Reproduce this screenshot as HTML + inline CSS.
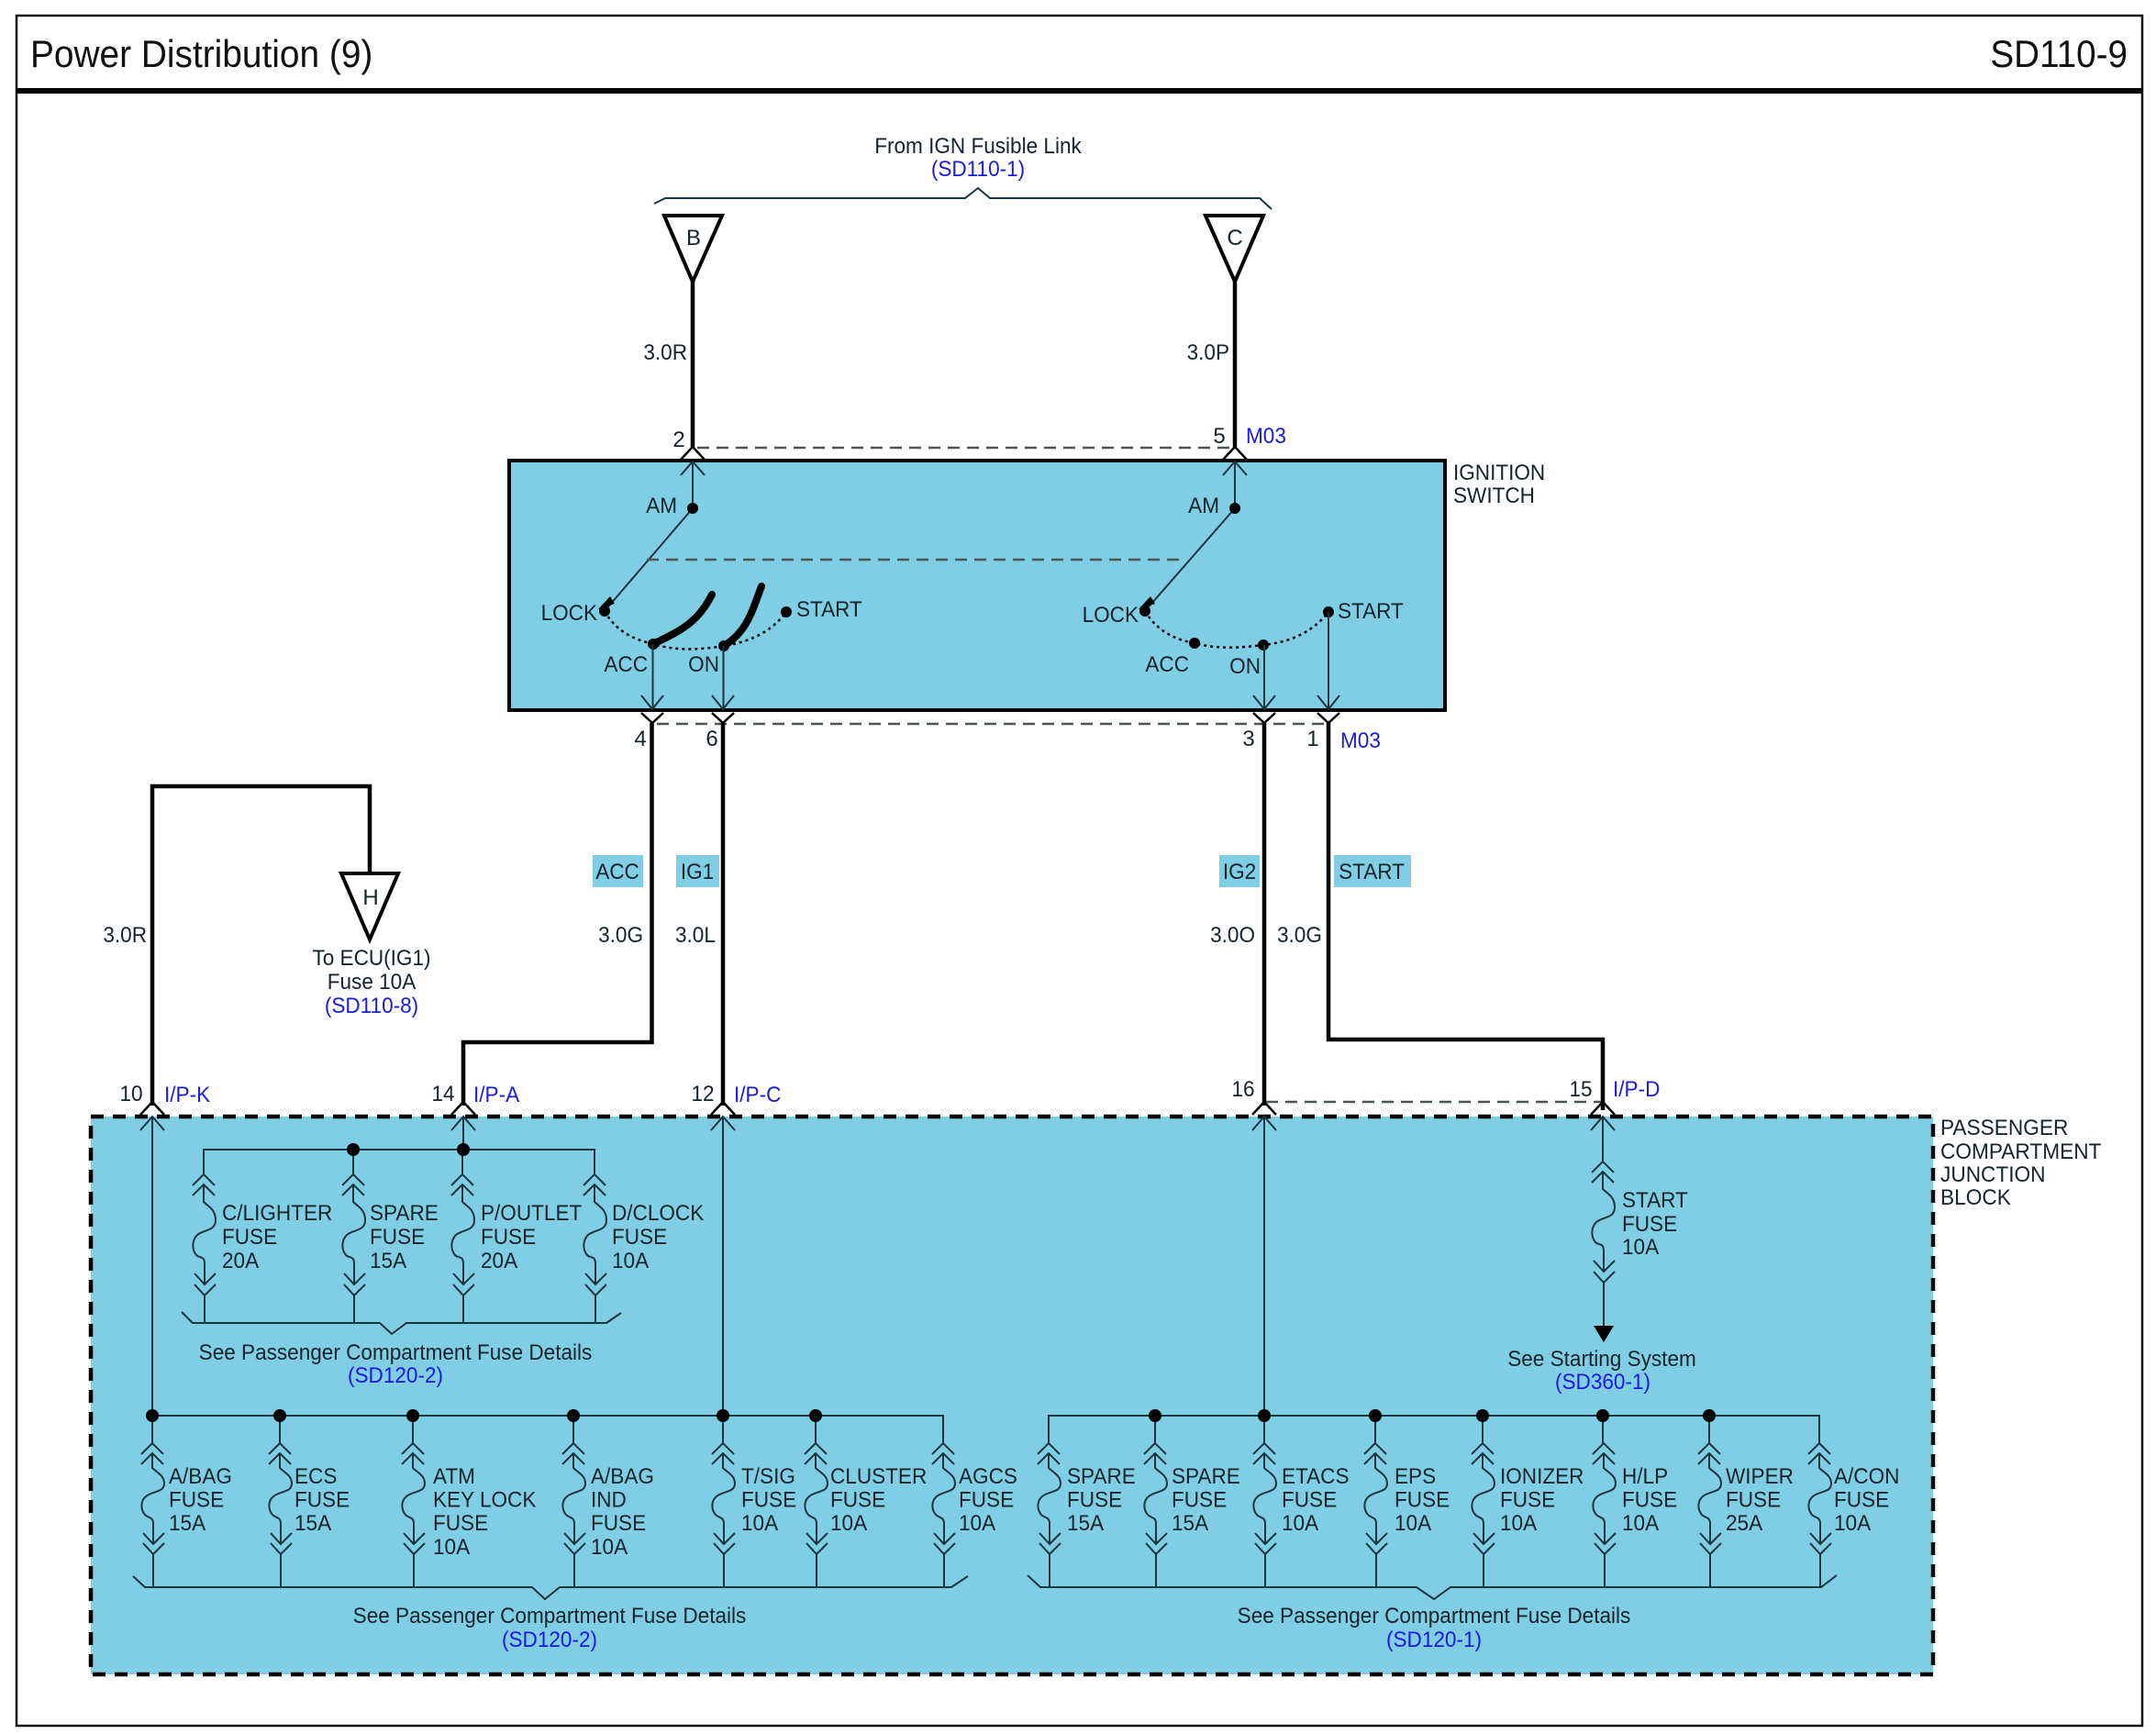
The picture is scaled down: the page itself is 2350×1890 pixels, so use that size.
<!DOCTYPE html>
<html><head><meta charset="utf-8"><title>Power Distribution (9)</title>
<style>
html,body{margin:0;padding:0;background:#fff}
svg{display:block}
text{font-family:"Liberation Sans",sans-serif;font-size:24px;fill:#14242c}
.b{fill:#1a1ae0}
.m{text-anchor:middle}
.e{text-anchor:end}
.h{font-size:42px;fill:#111}
.w{fill:none;stroke:#000;stroke-width:4.500}
.n{fill:none;stroke:#1b3540;stroke-width:2}
.d{fill:none;stroke:#4a5558;stroke-width:2.5;stroke-dasharray:13 8}
.c{fill:#80cee4}
</style></head><body>
<svg xmlns="http://www.w3.org/2000/svg" width="2350" height="1890" viewBox="0 0 2350 1890">
<defs>
<path id="fL" class="n" d="M-12,12 L0,0 L12,12 M-12,23 L0,11 L12,23 M0,11 V27 C5,32 13,35 13,44 C13,54 0,52 -7,58 C-13,63 -13,72 -8,78 C-4,82 1,80 1,88 V110 M-10,98 L1,110 L13,98 M-10,109 L1,121 L13,109 M1,121 V157"/>
<path id="fU" class="n" d="M-12,12 L0,0 L12,12 M-12,23 L0,11 L12,23 M0,11 V30 C5,35 13,38 13,50 C13,62 0,60 -7,66 C-13,72 -13,82 -8,88 C-4,92 1,88 1,98 V120 M-10,108 L1,120 L13,108 M-10,120 L1,132 L13,120 M1,132 V162"/>
<g id="cu"><path d="M-13,12 L0,-2 L13,12" fill="none" stroke="#000" stroke-width="2.5"/><path class="n" d="M-13,15 L0,0 L13,15"  transform="translate(0,14)"/></g>
<g id="cd"><path class="n" d="M-12,-15 L0,0 L12,-15"/><path d="M-12,4 L0,15 L12,4" fill="none" stroke="#000" stroke-width="2.5"/></g>
</defs>
<rect width="2350" height="1890" fill="#fff"/>
<rect x="18" y="17" width="2317" height="1864" fill="none" stroke="#111" stroke-width="2.5"/>
<rect x="18" y="96" width="2317" height="6" fill="#000"/>
<text class="h" transform="translate(33 73) scale(.925 1)">Power Distribution (9)</text>
<text class="h e" transform="translate(2319 73) scale(.92 1)">SD110-9</text>

<!-- top brace -->
<text class="m" transform="translate(1066 167) scale(.94 1)">From IGN Fusible Link</text>
<text class="m b" transform="translate(1066 192) scale(.94 1)">(SD110-1)</text>
<path class="n" d="M713,222 L725,216 H1052 L1066,205 L1079,216 H1373 L1386,228"/>
<path d="M724,235 H787 L755,307 Z M1314,235 H1377 L1346,307 Z" fill="none" stroke="#000" stroke-width="4"/>
<text class="m" x="756" y="267">B</text><text class="m" x="1346" y="267">C</text>
<path class="w" d="M755,307 V487 M1346,307 V487"/>
<text class="e" transform="translate(749 392) scale(.94 1)">3.0R</text>
<text class="e" transform="translate(1340 392) scale(.94 1)">3.0P</text>

<!-- ignition switch -->
<rect class="c" x="555" y="502" width="1020" height="272" stroke="#000" stroke-width="4"/>
<path class="d" d="M760,488 H1340"/>
<text class="m" x="740" y="487">2</text><text class="m" x="1329" y="483">5</text>
<text class="b" transform="translate(1358 483) scale(.94 1)">M03</text>
<text transform="translate(1584 523) scale(.94 1)">IGNITION</text>
<text transform="translate(1584 548) scale(.94 1)">SWITCH</text>
<use href="#cu" x="755" y="489"/><use href="#cu" x="1346" y="489"/>
<path class="n" d="M755,503 V554 M1346,503 V554 M755,554 L659,666 M1346,554 L1248,666"/>
<path d="M652,664 L665,650 L670,658 Z M1241,664 L1254,650 L1259,658 Z" fill="#000"/>
<path class="d" d="M705,610 H1288"/>
<text class="e" transform="translate(738 559) scale(.94 1)">AM</text>
<text class="e" transform="translate(1329 559) scale(.94 1)">AM</text>
<text class="e" transform="translate(651 676) scale(.94 1)">LOCK</text>
<text class="e" transform="translate(1241 678) scale(.94 1)">LOCK</text>
<text transform="translate(868 672) scale(.94 1)">START</text>
<text transform="translate(1458 674) scale(.94 1)">START</text>
<text class="e" transform="translate(706 732) scale(.94 1)">ACC</text>
<text class="e" transform="translate(784 732) scale(.94 1)">ON</text>
<text class="e" transform="translate(1296 732) scale(.94 1)">ACC</text>
<text class="e" transform="translate(1374 734) scale(.94 1)">ON</text>
<path d="M659,666 C672,690 695,698 712,702 C738,710 765,708 789,704 C815,700 840,690 857,667" fill="none" stroke="#000" stroke-width="2.5" stroke-dasharray="3 4"/>
<path d="M1248,666 C1262,690 1285,698 1302,701 C1328,708 1352,706 1377,703 C1405,700 1430,690 1448,667" fill="none" stroke="#000" stroke-width="2.5" stroke-dasharray="3 4"/>
<path d="M712,702 C740,688 760,680 776,648 M789,704 C815,688 820,665 830,639" fill="none" stroke="#000" stroke-width="8" stroke-linecap="round"/>
<g fill="#000"><circle cx="755" cy="554" r="6"/><circle cx="1346" cy="554" r="6"/><circle cx="659" cy="666" r="6"/><circle cx="1248" cy="666" r="6"/><circle cx="857" cy="667" r="6"/><circle cx="1448" cy="667" r="6"/><circle cx="712" cy="702" r="6"/><circle cx="789" cy="704" r="6"/><circle cx="1302" cy="701" r="6"/><circle cx="1377" cy="703" r="6"/></g>
<path class="n" d="M711.500,702 V773 M788.500,704 V773 M1378,703 V773 M1448,667 V773"/>
<use href="#cd" x="711" y="773"/><use href="#cd" x="788" y="773"/><use href="#cd" x="1378" y="773"/><use href="#cd" x="1448" y="773"/>
<path class="d" d="M716,789 H1445"/>
<text class="m" x="698" y="813">4</text><text class="m" x="776" y="813">6</text><text class="m" x="1361" y="813">3</text><text class="m" x="1431" y="813">1</text>
<text class="b" transform="translate(1461 815) scale(.94 1)">M03</text>

<!-- main wires -->
<path class="w" d="M710.500,788 V1136 H505 V1205 M788,788 V1205 M1378,788 V1205 M1448,788 V1133 H1747 V1210 M166,1205 V857 H403 V952"/>
<path d="M372,952 H434 L403,1024 Z" fill="none" stroke="#000" stroke-width="4"/>
<text class="m" x="404" y="986">H</text>
<text class="m" transform="translate(405 1052) scale(.94 1)">To ECU(IG1)</text>
<text class="m" transform="translate(405 1078) scale(.94 1)">Fuse 10A</text>
<text class="m b" transform="translate(405 1104) scale(.94 1)">(SD110-8)</text>

<!-- chips -->
<rect class="c" x="646" y="932" width="55" height="35"/><rect class="c" x="737" y="932" width="47" height="35"/><rect class="c" x="1329" y="932" width="44" height="35"/><rect class="c" x="1454" y="932" width="84" height="35"/>
<text class="m" transform="translate(673 958) scale(.94 1)">ACC</text>
<text class="m" transform="translate(760 958) scale(.94 1)">IG1</text>
<text class="m" transform="translate(1351 958) scale(.94 1)">IG2</text>
<text class="m" transform="translate(1495 958) scale(.94 1)">START</text>
<text class="e" transform="translate(701 1027) scale(.94 1)">3.0G</text>
<text transform="translate(736 1027) scale(.94 1)">3.0L</text>
<text class="e" transform="translate(1368 1027) scale(.94 1)">3.0O</text>
<text transform="translate(1392 1027) scale(.94 1)">3.0G</text>
<text class="e" transform="translate(160 1027) scale(.94 1)">3.0R</text>

<!-- junction block -->
<rect class="c" x="99" y="1217" width="2008" height="608" stroke="#000" stroke-width="4.500" stroke-dasharray="14 10"/>
<text class="m" transform="translate(143 1200) scale(.94 1)">10</text>
<text class="b" transform="translate(179 1201) scale(.94 1)">I/P-K</text>
<text class="m" transform="translate(483 1200) scale(.94 1)">14</text>
<text class="b" transform="translate(516 1201) scale(.94 1)">I/P-A</text>
<text class="m" transform="translate(766 1200) scale(.94 1)">12</text>
<text class="b" transform="translate(800 1201) scale(.94 1)">I/P-C</text>
<text class="m" transform="translate(1355 1195) scale(.94 1)">16</text>
<text class="m" transform="translate(1723 1195) scale(.94 1)">15</text>
<text class="b" transform="translate(1758 1195) scale(.94 1)">I/P-D</text>
<path class="d" d="M1380,1201 H1745" stroke-width="2"/>
<g transform="translate(2115 1237) scale(.945 1)"><text><tspan x="0" y="0">PASSENGER</tspan><tspan x="0" y="26">COMPARTMENT</tspan><tspan x="0" y="51">JUNCTION</tspan><tspan x="0" y="76">BLOCK</tspan></text></g>
<use href="#cu" x="166" y="1203"/><use href="#cu" x="505" y="1203"/><use href="#cu" x="788" y="1203"/><use href="#cu" x="1378" y="1203"/><use href="#cu" x="1747" y="1203"/>
<path class="n" d="M166,1217 V1543 M505,1217 V1253 M788,1217 V1543 M1378,1217 V1543 M1747,1217 V1266"/>

<!-- start fuse -->
<use href="#fU" x="1747" y="1266"/>
<path class="n" d="M1748,1428 V1445"/>
<path d="M1737,1445 H1759 L1748,1463 Z" fill="#000"/>
<g transform="translate(1768 1316) scale(.94 1)"><text><tspan x="0" y="0">START</tspan><tspan x="0" y="26">FUSE</tspan><tspan x="0" y="51">10A</tspan></text></g>
<text class="m" transform="translate(1746 1489) scale(.94 1)">See Starting System</text>
<text class="m b" transform="translate(1747 1514) scale(.94 1)">(SD360-1)</text>

<!-- upper fuses -->
<path class="n" d="M222,1280 V1253 H648 V1280 M385,1253 V1280 M504,1253 V1280"/>
<circle cx="385" cy="1253" r="7"/><circle cx="505" cy="1253" r="7"/>
<use href="#fU" x="222" y="1280"/><use href="#fU" x="385" y="1280"/><use href="#fU" x="504" y="1280"/><use href="#fU" x="648" y="1280"/>
<path class="n" d="M198,1430 L210,1442 H414 L427,1454 L443,1442 H661 L677,1431"/>
<g transform="translate(242 1330) scale(.94 1)"><text><tspan x="0" y="0">C/LIGHTER</tspan><tspan x="0" y="26">FUSE</tspan><tspan x="0" y="52">20A</tspan></text></g>
<g transform="translate(403 1330) scale(.94 1)"><text><tspan x="0" y="0">SPARE</tspan><tspan x="0" y="26">FUSE</tspan><tspan x="0" y="52">15A</tspan></text></g>
<g transform="translate(524 1330) scale(.94 1)"><text><tspan x="0" y="0">P/OUTLET</tspan><tspan x="0" y="26">FUSE</tspan><tspan x="0" y="52">20A</tspan></text></g>
<g transform="translate(667 1330) scale(.94 1)"><text><tspan x="0" y="0">D/CLOCK</tspan><tspan x="0" y="26">FUSE</tspan><tspan x="0" y="52">10A</tspan></text></g>
<text class="m" transform="translate(431 1482) scale(.94 1)">See Passenger Compartment Fuse Details</text>
<text class="m b" transform="translate(431 1507) scale(.94 1)">(SD120-2)</text>

<!-- lower left -->
<path class="n" d="M166,1543 H1028 V1573 M305,1543 V1573 M450,1543 V1573 M625,1543 V1573 M788,1543 V1573 M889,1543 V1573 M166,1543 V1573" stroke-width="2.5"/>
<circle cx="166" cy="1543" r="7"/><circle cx="305" cy="1543" r="7"/><circle cx="450" cy="1543" r="7"/><circle cx="625" cy="1543" r="7"/><circle cx="788" cy="1543" r="7"/><circle cx="889" cy="1543" r="7"/>
<use href="#fL" x="166" y="1573"/><use href="#fL" x="305" y="1573"/><use href="#fL" x="450" y="1573"/><use href="#fL" x="625" y="1573"/><use href="#fL" x="788" y="1573"/><use href="#fL" x="889" y="1573"/><use href="#fL" x="1028" y="1573"/>
<path class="n" d="M145,1718 L158,1730 H580 L594,1743 L610,1730 H1037 L1055,1718" stroke-width="2.5"/>
<g transform="translate(184 1617) scale(.94 1)"><text><tspan x="0" y="0">A/BAG</tspan><tspan x="0" y="25.500">FUSE</tspan><tspan x="0" y="51">15A</tspan></text></g>
<g transform="translate(321 1617) scale(.94 1)"><text><tspan x="0" y="0">ECS</tspan><tspan x="0" y="25.500">FUSE</tspan><tspan x="0" y="51">15A</tspan></text></g>
<g transform="translate(472 1617) scale(.94 1)"><text><tspan x="0" y="0">ATM</tspan><tspan x="0" y="25.500">KEY LOCK</tspan><tspan x="0" y="51">FUSE</tspan><tspan x="0" y="77">10A</tspan></text></g>
<g transform="translate(644 1617) scale(.94 1)"><text><tspan x="0" y="0">A/BAG</tspan><tspan x="0" y="25.500">IND</tspan><tspan x="0" y="51">FUSE</tspan><tspan x="0" y="77">10A</tspan></text></g>
<g transform="translate(808 1617) scale(.94 1)"><text><tspan x="0" y="0">T/SIG</tspan><tspan x="0" y="25.500">FUSE</tspan><tspan x="0" y="51">10A</tspan></text></g>
<g transform="translate(905 1617) scale(.94 1)"><text><tspan x="0" y="0">CLUSTER</tspan><tspan x="0" y="25.500">FUSE</tspan><tspan x="0" y="51">10A</tspan></text></g>
<g transform="translate(1045 1617) scale(.94 1)"><text><tspan x="0" y="0">AGCS</tspan><tspan x="0" y="25.500">FUSE</tspan><tspan x="0" y="51">10A</tspan></text></g>
<text class="m" transform="translate(599 1769) scale(.94 1)">See Passenger Compartment Fuse Details</text>
<text class="m b" transform="translate(599 1795) scale(.94 1)">(SD120-2)</text>

<!-- lower right -->
<path class="n" d="M1143,1573 V1543 H1983 V1573 M1259,1543 V1573 M1378,1543 V1573 M1499,1543 V1573 M1616,1543 V1573 M1747,1543 V1573 M1863,1543 V1573" stroke-width="2.5"/>
<circle cx="1259" cy="1543" r="7"/><circle cx="1378" cy="1543" r="7"/><circle cx="1499" cy="1543" r="7"/><circle cx="1616" cy="1543" r="7"/><circle cx="1747" cy="1543" r="7"/><circle cx="1863" cy="1543" r="7"/>
<use href="#fL" x="1143" y="1573"/><use href="#fL" x="1259" y="1573"/><use href="#fL" x="1378" y="1573"/><use href="#fL" x="1499" y="1573"/><use href="#fL" x="1616" y="1573"/><use href="#fL" x="1748" y="1573"/><use href="#fL" x="1863" y="1573"/><use href="#fL" x="1983" y="1573"/>
<path class="n" d="M1120,1717 L1134,1730 H1544 L1563,1743 L1581,1730 H1985 L2002,1717" stroke-width="2.5"/>
<g transform="translate(1163 1617) scale(.94 1)"><text><tspan x="0" y="0">SPARE</tspan><tspan x="0" y="25.500">FUSE</tspan><tspan x="0" y="51">15A</tspan></text></g>
<g transform="translate(1277 1617) scale(.94 1)"><text><tspan x="0" y="0">SPARE</tspan><tspan x="0" y="25.500">FUSE</tspan><tspan x="0" y="51">15A</tspan></text></g>
<g transform="translate(1397 1617) scale(.94 1)"><text><tspan x="0" y="0">ETACS</tspan><tspan x="0" y="25.500">FUSE</tspan><tspan x="0" y="51">10A</tspan></text></g>
<g transform="translate(1520 1617) scale(.94 1)"><text><tspan x="0" y="0">EPS</tspan><tspan x="0" y="25.500">FUSE</tspan><tspan x="0" y="51">10A</tspan></text></g>
<g transform="translate(1635 1617) scale(.94 1)"><text><tspan x="0" y="0">IONIZER</tspan><tspan x="0" y="25.500">FUSE</tspan><tspan x="0" y="51">10A</tspan></text></g>
<g transform="translate(1768 1617) scale(.94 1)"><text><tspan x="0" y="0">H/LP</tspan><tspan x="0" y="25.500">FUSE</tspan><tspan x="0" y="51">10A</tspan></text></g>
<g transform="translate(1881 1617) scale(.94 1)"><text><tspan x="0" y="0">WIPER</tspan><tspan x="0" y="25.500">FUSE</tspan><tspan x="0" y="51">25A</tspan></text></g>
<g transform="translate(1999 1617) scale(.94 1)"><text><tspan x="0" y="0">A/CON</tspan><tspan x="0" y="25.500">FUSE</tspan><tspan x="0" y="51">10A</tspan></text></g>
<text class="m" transform="translate(1563 1769) scale(.94 1)">See Passenger Compartment Fuse Details</text>
<text class="m b" transform="translate(1563 1795) scale(.94 1)">(SD120-1)</text>
</svg>
</body></html>
